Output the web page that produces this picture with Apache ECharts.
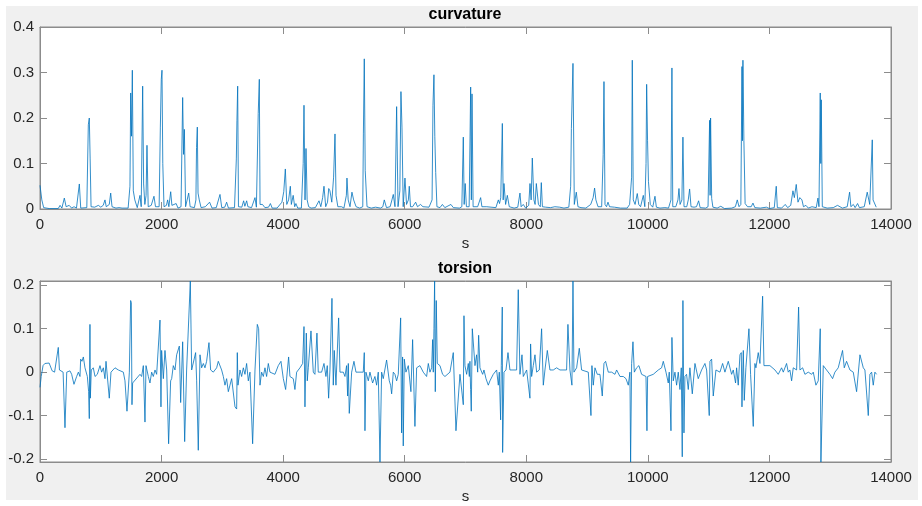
<!DOCTYPE html>
<html>
<head>
<meta charset="utf-8">
<script src="https://cdn.jsdelivr.net/npm/echarts@6/dist/echarts.min.js"></script>
<style>
  html, body { margin: 0; padding: 0; background: #fff; }
  #main { width: 922px; height: 506px; }
</style>
</head>
<body>
<div id="main"></div>
<script>
// x axis ticks (arc length s)
var sTicks = [0, 2000, 4000, 6000, 8000, 10000, 12000, 14000];
var curvTicks = [0, 0.1, 0.2, 0.3, 0.4];
var torsTicks = [-0.2, -0.1, 0, 0.1, 0.2];

// curvature samples: [s, value]
var curvature = [
  [0, 0.052], [30, 0.02], [60, 0.003], [150, 0.001], [300, 0.001], [330, 0.008], [360, 0.002],
  [400, 0.024], [430, 0.005], [480, 0.008], [520, 0.002], [560, 0.005], [600, 0.002], [647, 0.055],
  [670, 0.002], [770, 0.003], [795, 0.185], [811, 0.2], [825, 0.11], [840, 0.005], [900, 0.004],
  [960, 0.008], [1000, 0.004], [1040, 0.008], [1069, 0.02], [1090, 0.005], [1140, 0.01], [1163, 0.035],
  [1185, 0.005], [1250, 0.002], [1300, 0.003], [1350, 0.002], [1450, 0.002], [1480, 0.05], [1492, 0.255],
  [1505, 0.16], [1519, 0.305], [1535, 0.04], [1560, 0.02], [1600, 0.003], [1645, 0.03], [1665, 0.005],
  [1689, 0.27], [1705, 0.055], [1725, 0.01], [1745, 0.03], [1760, 0.14], [1780, 0.005], [1830, 0.008],
  [1875, 0.028], [1900, 0.005], [1960, 0.005], [1980, 0.18], [1995, 0.285], [2007, 0.305], [2020, 0.1],
  [2040, 0.005], [2080, 0.008], [2100, 0.02], [2120, 0.005], [2150, 0.038], [2170, 0.008], [2200, 0.01],
  [2240, 0.012], [2270, 0.002], [2320, 0.005], [2347, 0.245], [2362, 0.12], [2375, 0.175], [2395, 0.005],
  [2420, 0.005], [2446, 0.035], [2470, 0.005], [2540, 0.003], [2565, 0.02], [2575, 0.135], [2588, 0.18],
  [2600, 0.035], [2620, 0.02], [2650, 0.003], [2720, 0.005], [2790, 0.015], [2830, 0.002], [2900, 0.003],
  [2961, 0.032], [2990, 0.003], [3040, 0.004], [3070, 0.015], [3100, 0.002], [3200, 0.003], [3230, 0.11],
  [3240, 0.195], [3252, 0.27], [3265, 0.005], [3320, 0.004], [3350, 0.018], [3370, 0.006], [3400, 0.018],
  [3420, 0.005], [3480, 0.003], [3537, 0.025], [3560, 0.004], [3590, 0.21], [3608, 0.285], [3620, 0.01],
  [3660, 0.01], [3700, 0.003], [3760, 0.004], [3790, 0.012], [3820, 0.002], [3900, 0.002], [3980, 0.015],
  [4010, 0.038], [4036, 0.088], [4060, 0.01], [4090, 0.02], [4118, 0.05], [4135, 0.01], [4165, 0.03],
  [4190, 0.005], [4210, 0.012], [4240, 0.002], [4300, 0.002], [4330, 0.1], [4343, 0.228], [4360, 0.02],
  [4376, 0.133], [4395, 0.02], [4420, 0.005], [4460, 0.002], [4530, 0.003], [4590, 0.018], [4620, 0.005],
  [4650, 0.025], [4672, 0.05], [4700, 0.005], [4730, 0.015], [4750, 0.045], [4770, 0.04], [4800, 0.015],
  [4830, 0.07], [4853, 0.165], [4870, 0.03], [4900, 0.005], [4960, 0.005], [5000, 0.002], [5040, 0.03],
  [5050, 0.068], [5070, 0.02], [5100, 0.005], [5132, 0.037], [5160, 0.02], [5200, 0.005], [5260, 0.002],
  [5310, 0.005], [5320, 0.165], [5335, 0.33], [5350, 0.085], [5380, 0.005], [5450, 0.002], [5520, 0.004],
  [5600, 0.002], [5640, 0.005], [5664, 0.02], [5700, 0.003], [5760, 0.005], [5790, 0.02], [5812, 0.032],
  [5840, 0.005], [5867, 0.225], [5890, 0.005], [5920, 0.04], [5938, 0.258], [5955, 0.18], [5975, 0.005],
  [6004, 0.068], [6030, 0.01], [6060, 0.02], [6075, 0.05], [6095, 0.005], [6130, 0.005], [6180, 0.015],
  [6210, 0.005], [6260, 0.01], [6300, 0.005], [6400, 0.004], [6450, 0.02], [6465, 0.228], [6481, 0.295],
  [6495, 0.16], [6510, 0.08], [6530, 0.005], [6580, 0.003], [6620, 0.01], [6660, 0.003], [6760, 0.01],
  [6800, 0.003], [6900, 0.002], [6940, 0.005], [6964, 0.158], [6978, 0.01], [6995, 0.056], [7015, 0.005],
  [7060, 0.005], [7085, 0.268], [7096, 0.02], [7107, 0.253], [7125, 0.005], [7200, 0.005], [7249, 0.025],
  [7270, 0.005], [7350, 0.005], [7420, 0.004], [7500, 0.003], [7540, 0.02], [7560, 0.012], [7580, 0.025],
  [7606, 0.188], [7620, 0.02], [7633, 0.056], [7660, 0.01], [7688, 0.03], [7720, 0.005], [7800, 0.002],
  [7860, 0.004], [7896, 0.035], [7915, 0.005], [7950, 0.01], [7990, 0.002], [8040, 0.008], [8061, 0.056],
  [8080, 0.02], [8099, 0.112], [8125, 0.02], [8145, 0.01], [8165, 0.056], [8200, 0.01], [8230, 0.005],
  [8247, 0.058], [8265, 0.005], [8320, 0.004], [8400, 0.003], [8470, 0.005], [8550, 0.004], [8620, 0.002],
  [8700, 0.004], [8730, 0.05], [8742, 0.177], [8768, 0.32], [8790, 0.01], [8823, 0.037], [8850, 0.005],
  [8900, 0.003], [8980, 0.002], [9060, 0.01], [9100, 0.025], [9124, 0.046], [9145, 0.02], [9180, 0.005],
  [9240, 0.005], [9265, 0.12], [9278, 0.28], [9295, 0.01], [9320, 0.005], [9344, 0.015], [9370, 0.005],
  [9400, 0.008], [9450, 0.004], [9550, 0.002], [9660, 0.002], [9700, 0.01], [9733, 0.07], [9744, 0.327],
  [9760, 0.02], [9790, 0.01], [9826, 0.034], [9850, 0.01], [9880, 0.005], [9925, 0.03], [9950, 0.005],
  [9970, 0.1], [9980, 0.274], [9995, 0.15], [10010, 0.06], [10040, 0.01], [10080, 0.004], [10117, 0.028],
  [10140, 0.004], [10200, 0.002], [10280, 0.003], [10340, 0.002], [10380, 0.02], [10396, 0.31], [10410, 0.005],
  [10460, 0.005], [10495, 0.02], [10512, 0.045], [10530, 0.01], [10560, 0.02], [10577, 0.158], [10595, 0.005],
  [10640, 0.005], [10665, 0.02], [10687, 0.044], [10710, 0.005], [10760, 0.004], [10800, 0.005], [10835, 0.018],
  [10860, 0.003], [10950, 0.002], [10990, 0.005], [11016, 0.195], [11024, 0.03], [11032, 0.2], [11050, 0.023],
  [11070, 0.004], [11140, 0.002], [11200, 0.006], [11260, 0.001], [11380, 0.002], [11440, 0.005], [11471, 0.02],
  [11500, 0.005], [11530, 0.01], [11548, 0.313], [11556, 0.15], [11564, 0.327], [11580, 0.15], [11600, 0.012],
  [11640, 0.005], [11700, 0.005], [11729, 0.013], [11760, 0.003], [11850, 0.002], [11950, 0.004], [12000, 0.001],
  [12080, 0.003], [12112, 0.05], [12130, 0.003], [12200, 0.002], [12260, 0.01], [12300, 0.003], [12350, 0.008],
  [12387, 0.04], [12410, 0.025], [12441, 0.054], [12470, 0.015], [12500, 0.025], [12535, 0.02], [12560, 0.005],
  [12600, 0.008], [12640, 0.002], [12700, 0.005], [12770, 0.003], [12798, 0.024], [12815, 0.005], [12836, 0.255],
  [12845, 0.1], [12853, 0.24], [12870, 0.005], [12950, 0.002], [13050, 0.003], [13120, 0.008], [13200, 0.002],
  [13280, 0.005], [13319, 0.037], [13340, 0.005], [13380, 0.01], [13410, 0.003], [13450, 0.012], [13480, 0.003],
  [13560, 0.005], [13609, 0.037], [13640, 0.04], [13650, 0.01], [13692, 0.152], [13705, 0.02], [13720, 0.024],
  [13757, 0.004]
];

// torsion samples: [s, value]
var torsion = [
  [0, -0.035], [20, -0.01], [50, 0.015], [80, 0.02], [150, 0.021], [175, 0.02], [200, 0.003], [240, 0],
  [301, 0.057], [320, 0.005], [380, 0], [411, -0.128], [440, 0], [493, 0.003], [521, -0.005], [559, -0.028],
  [603, -0.01], [631, 0], [658, -0.01], [669, 0.03], [691, 0.025], [713, 0.035], [740, 0.01], [779, -0.01],
  [800, -0.045], [811, -0.107], [822, 0.11], [828, -0.06], [844, 0.005], [877, 0.01], [905, -0.01], [943, -0.005],
  [987, 0.015], [1014, 0], [1042, 0.01], [1069, -0.015], [1086, 0.025], [1140, -0.06], [1168, 0], [1234, 0.01],
  [1289, 0.005], [1371, 0], [1398, -0.02], [1431, -0.09], [1470, 0], [1491, 0.165], [1502, 0.16], [1513, -0.075],
  [1524, -0.025], [1645, -0.005], [1672, -0.01], [1700, 0.015], [1727, -0.115], [1744, 0.015], [1782, -0.01],
  [1809, -0.025], [1837, 0], [1864, -0.01], [1892, 0.005], [1919, -0.005], [1974, 0.12], [1990, -0.08],
  [2001, 0.05], [2029, -0.015], [2056, 0.05], [2084, 0.005], [2116, -0.165], [2149, -0.02], [2166, -0.015],
  [2193, 0.015], [2221, 0.005], [2248, 0.04], [2292, 0.06], [2314, -0.07], [2347, 0.07], [2380, -0.16],
  [2412, 0.005], [2473, 0.21], [2495, 0.005], [2560, 0.045], [2577, -0.02], [2604, -0.18], [2632, 0.04],
  [2659, 0.01], [2687, 0.02], [2714, 0.01], [2741, 0.025], [2780, 0.068], [2807, 0.005], [2851, 0], [2906, 0.01],
  [2933, 0.025], [2988, 0.005], [3016, -0.01], [3043, -0.03], [3070, -0.015], [3098, -0.045], [3125, -0.03],
  [3153, -0.015], [3208, -0.08], [3235, -0.085], [3246, 0.045], [3257, -0.03], [3290, 0.005], [3317, -0.01],
  [3345, 0.01], [3372, -0.005], [3399, 0.02], [3427, -0.02], [3454, 0], [3498, -0.165], [3537, 0.005],
  [3575, 0.11], [3597, 0.1], [3619, -0.03], [3646, 0], [3674, -0.01], [3701, 0.01], [3728, -0.01], [3756, 0.02],
  [3783, 0], [3865, -0.005], [3920, 0.015], [3964, 0.025], [4003, -0.015], [4041, -0.04], [4090, 0.035],
  [4112, -0.01], [4167, -0.015], [4194, -0.04], [4222, 0], [4277, 0.01], [4321, 0.02], [4343, 0.105],
  [4359, -0.08], [4381, 0.09], [4397, -0.02], [4414, 0.01], [4458, 0.095], [4496, 0], [4523, -0.005],
  [4556, 0.09], [4578, 0], [4633, 0], [4672, 0.02], [4704, -0.01], [4726, 0.015], [4748, -0.06], [4770, 0.005],
  [4803, 0.17], [4825, -0.03], [4841, 0.05], [4869, -0.03], [4913, 0.125], [4935, 0], [4990, 0], [5017, -0.01],
  [5044, 0.015], [5061, -0.055], [5072, 0.02], [5088, -0.095], [5127, 0], [5165, 0.025], [5198, 0], [5318, 0],
  [5335, 0.045], [5346, -0.135], [5362, 0], [5401, -0.02], [5428, 0], [5472, -0.025], [5510, -0.01],
  [5538, -0.03], [5565, 0], [5593, -0.207], [5620, 0], [5647, -0.015], [5702, 0.028], [5746, -0.02],
  [5768, -0.03], [5785, -0.05], [5812, 0], [5839, -0.005], [5867, -0.02], [5894, -0.005], [5933, 0.125],
  [5949, -0.14], [5965, 0.035], [5976, -0.17], [5993, 0.03], [6020, 0], [6059, 0.015], [6102, -0.045],
  [6130, 0.075], [6168, -0.125], [6196, 0.01], [6250, 0.015], [6305, 0], [6360, -0.01], [6388, 0.02], [6415, 0],
  [6443, 0.01], [6459, 0.075], [6470, 0], [6481, 0.1], [6492, 0.21], [6503, -0.045], [6519, 0.165],
  [6536, 0.02], [6580, 0.015], [6623, -0.005], [6662, -0.01], [6744, 0], [6799, 0.045], [6843, -0.135],
  [6909, -0.005], [6964, -0.075], [6975, 0.13], [6991, 0.015], [7019, -0.005], [7046, 0.02], [7063, -0.01],
  [7073, 0.025], [7084, -0.04], [7095, -0.09], [7112, 0.1], [7156, 0.015], [7183, 0.04], [7200, 0],
  [7216, 0.085], [7238, 0.01], [7282, -0.005], [7304, 0.005], [7337, -0.015], [7375, -0.03], [7402, -0.02],
  [7457, -0.005], [7512, 0.005], [7540, -0.03], [7556, 0], [7578, -0.11], [7589, 0.015], [7605, 0.15],
  [7611, -0.185], [7633, 0], [7666, 0.005], [7699, 0.045], [7731, 0.005], [7841, 0.005], [7868, 0.19],
  [7896, -0.005], [7929, 0.04], [7951, -0.01], [8006, 0.005], [8060, -0.06], [8071, 0.065], [8088, -0.01],
  [8115, 0.015], [8143, 0.04], [8170, 0], [8214, 0.005], [8252, 0.1], [8280, -0.03], [8307, 0.005],
  [8346, 0.05], [8389, 0.005], [8444, 0.005], [8499, 0.01], [8554, 0.005], [8663, 0.005], [8685, 0.11],
  [8718, 0.005], [8751, -0.03], [8768, 0.21], [8784, 0], [8828, 0.01], [8872, 0.055], [8910, 0.005],
  [9020, 0], [9064, -0.1], [9080, 0.015], [9102, -0.03], [9130, 0.01], [9168, -0.005], [9212, -0.005],
  [9250, -0.055], [9278, 0.02], [9305, 0.025], [9349, 0], [9404, 0], [9459, -0.005], [9486, 0.005],
  [9541, -0.01], [9596, -0.01], [9640, -0.015], [9678, -0.03], [9705, 0], [9716, -0.207], [9733, 0.02],
  [9755, 0.07], [9777, 0], [9815, 0.01], [9853, 0.015], [9897, -0.005], [9969, -0.01], [9985, -0.135],
  [9996, -0.01], [10089, -0.005], [10172, 0.005], [10226, 0.01], [10254, 0.025], [10298, 0], [10336, -0.025],
  [10352, 0], [10380, -0.135], [10396, 0.08], [10418, -0.02], [10446, 0], [10473, -0.03], [10500, 0],
  [10528, -0.04], [10550, 0.01], [10566, -0.195], [10577, 0.165], [10594, -0.14], [10610, -0.01],
  [10637, -0.005], [10665, -0.04], [10692, 0.01], [10731, -0.05], [10775, 0.02], [10802, 0.02],
  [10829, -0.015], [10884, 0.005], [10939, 0.02], [10967, 0.005], [11010, -0.1], [11021, 0.025],
  [11049, 0.03], [11076, -0.055], [11120, 0.005], [11186, 0], [11230, 0.02], [11268, 0], [11323, 0.025],
  [11378, -0.005], [11405, 0.005], [11443, -0.025], [11460, 0.01], [11487, -0.03], [11515, 0.04],
  [11537, 0.045], [11548, -0.08], [11570, 0.05], [11586, -0.065], [11613, 0.01], [11663, 0.1],
  [11690, -0.005], [11734, -0.125], [11761, 0.02], [11778, 0.01], [11816, 0.045], [11844, 0.02],
  [11888, 0.175], [11910, 0.015], [12008, 0.015], [12091, 0.005], [12145, -0.005], [12200, 0.01], [12228, 0],
  [12282, 0.02], [12310, 0], [12337, 0.005], [12365, -0.02], [12392, 0.01], [12447, 0.005], [12480, 0.15],
  [12502, 0.005], [12546, 0.01], [12584, -0.005], [12639, 0], [12694, -0.005], [12721, 0], [12765, -0.03],
  [12803, -0.02], [12836, 0.1], [12847, -0.207], [12886, 0.015], [12940, 0.005], [12995, -0.005],
  [13039, -0.015], [13077, 0], [13132, 0.01], [13203, 0.05], [13231, 0.01], [13269, 0.025], [13324, 0.005],
  [13379, 0], [13434, -0.045], [13489, 0.04], [13544, 0.01], [13571, 0.005], [13626, -0.1], [13653, -0.005],
  [13681, 0], [13708, -0.03], [13735, 0], [13763, -0.005]
];

var chart = echarts.init(document.getElementById("main"));

var axisGray = "#8c8c8c";
var textDark = "#262626";
var fontFam = "Liberation Sans, Arial, sans-serif";

function xAxisDef(gridIndex, pos, showLabels) {
  return {
    type: "value",
    gridIndex: gridIndex,
    position: pos,
    min: sTicks[0],
    max: sTicks[sTicks.length - 1],
    interval: 2000,
    name: showLabels ? "s" : "",
    nameLocation: "middle",
    nameGap: 27,
    nameTextStyle: { color: textDark, fontSize: 15, fontFamily: fontFam },
    axisLine: { show: true, onZero: false, lineStyle: { color: axisGray, width: 1 } },
    axisTick: { show: true, inside: true, length: 7, lineStyle: { color: axisGray } },
    axisLabel: {
      show: showLabels, color: textDark, fontSize: 15, fontFamily: fontFam, margin: 8,
      formatter: function (v) { return String(v); }
    },
    splitLine: { show: false }
  };
}

function yAxisDef(gridIndex, pos, showLabels, min, max, ticks) {
  return {
    type: "value",
    gridIndex: gridIndex,
    position: pos,
    min: min,
    max: max,
    axisLine: { show: true, onZero: false, lineStyle: { color: axisGray, width: 1 } },
    axisTick: { show: true, inside: true, length: 7, customValues: ticks, lineStyle: { color: axisGray } },
    axisLabel: {
      show: showLabels, color: textDark, fontSize: 15, fontFamily: fontFam, margin: 6,
      customValues: ticks,
      formatter: function (v) { return String(Math.round(v * 10) / 10); }
    },
    splitLine: { show: false }
  };
}

chart.setOption({
  animation: false,
  backgroundColor: "#ffffff",
  graphic: [
    { type: "rect", z: -10, silent: true, shape: { x: 6, y: 6, width: 912, height: 494 }, style: { fill: "#f0f0f0" } },
    { type: "rect", z: 100, silent: true, shape: { x: 0, y: 501, width: 922, height: 5 }, style: { fill: "#ffffff" } }
  ],
  title: [
    { text: "curvature", left: 465, top: 7, padding: 0, textAlign: "center",
      textStyle: { fontSize: 16, fontWeight: "bold", color: "#000", fontFamily: fontFam } },
    { text: "torsion", left: 465, top: 261, padding: 0, textAlign: "center",
      textStyle: { fontSize: 16, fontWeight: "bold", color: "#000", fontFamily: fontFam } }
  ],
  grid: [
    { left: 40, top: 27, width: 851, height: 182, show: true, backgroundColor: "#ffffff", borderColor: axisGray, borderWidth: 1 },
    { left: 40, top: 281, width: 851, height: 181, show: true, backgroundColor: "#ffffff", borderColor: axisGray, borderWidth: 1 }
  ],
  xAxis: [
    xAxisDef(0, "bottom", true),
    xAxisDef(0, "top", false),
    xAxisDef(1, "bottom", true),
    xAxisDef(1, "top", false)
  ],
  yAxis: [
    yAxisDef(0, "left", true, 0, 0.4, curvTicks),
    yAxisDef(0, "right", false, 0, 0.4, curvTicks),
    yAxisDef(1, "left", true, -0.207, 0.21, torsTicks),
    yAxisDef(1, "right", false, -0.207, 0.21, torsTicks)
  ],
  series: [
    {
      name: "curvature",
      type: "line",
      xAxisIndex: 0,
      yAxisIndex: 0,
      data: curvature,
      showSymbol: false,
      lineStyle: { color: "#0072BD", width: 0.8 }
    },
    {
      name: "torsion",
      type: "line",
      xAxisIndex: 2,
      yAxisIndex: 2,
      data: torsion,
      showSymbol: false,
      clip: true,
      lineStyle: { color: "#0072BD", width: 0.8 }
    }
  ]
});
</script>
</body>
</html>
